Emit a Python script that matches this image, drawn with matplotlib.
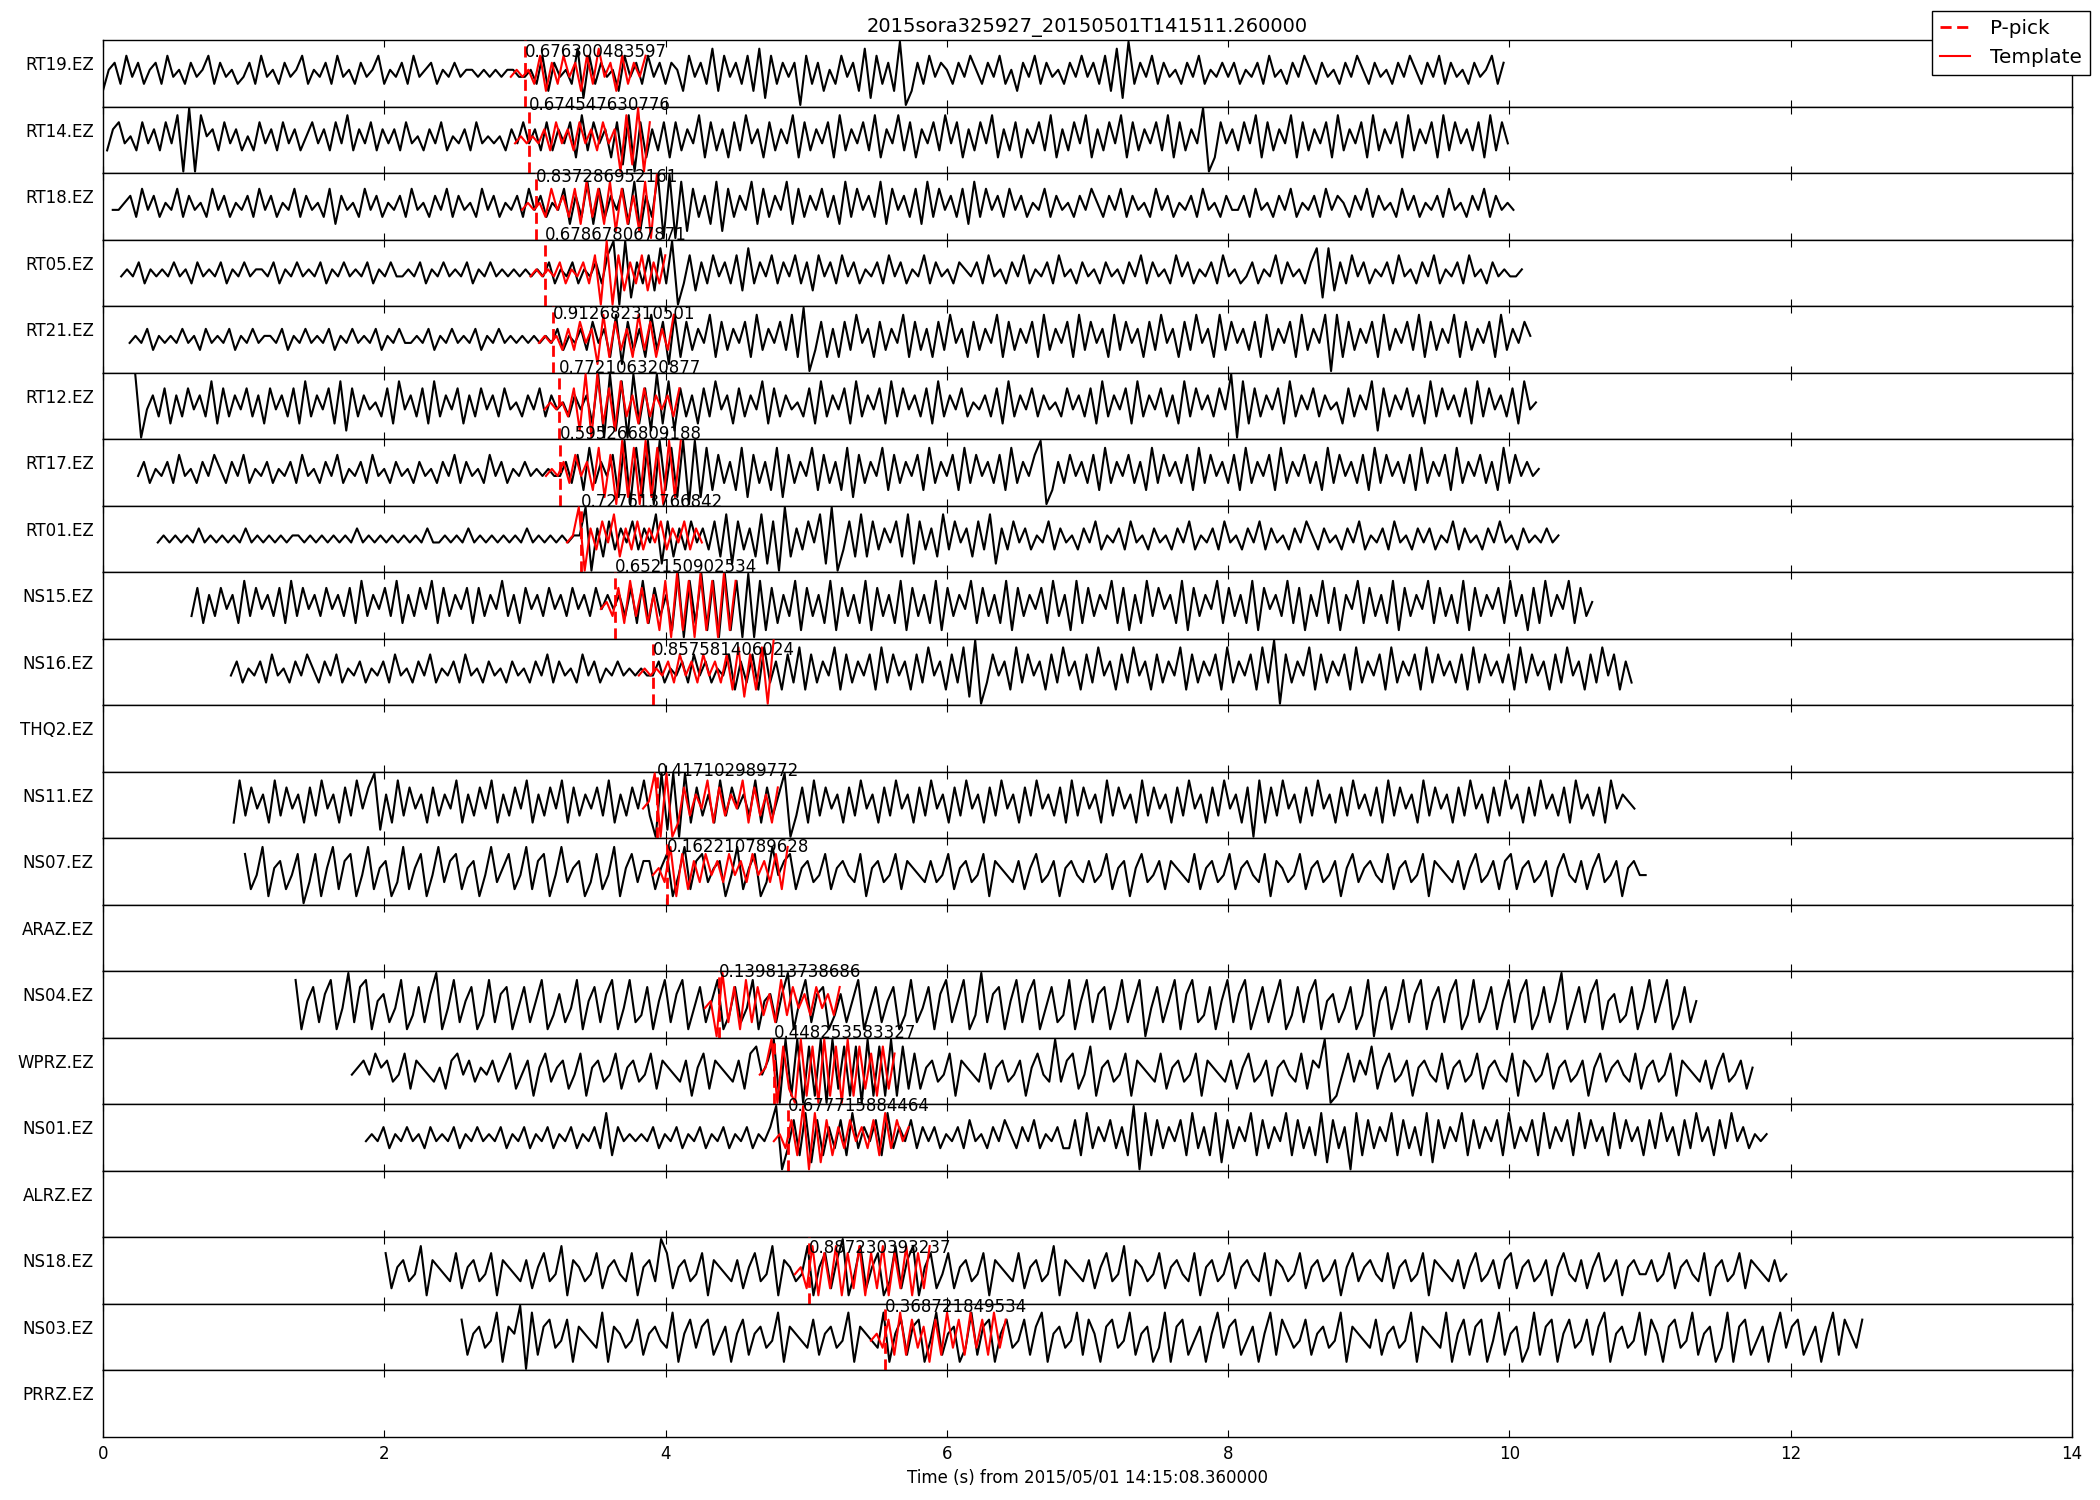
import matplotlib
matplotlib.use("Agg")
import matplotlib.pyplot as plt
import matplotlib.transforms as mtransforms
from matplotlib.lines import Line2D
import numpy as np

plt.rcParams.update({
    'font.family': 'DejaVu Sans',
    'font.size': 12,
    'axes.linewidth': 1.0,
    'xtick.direction': 'in',
    'xtick.top': True,
    'xtick.major.size': 5,
    'xtick.major.pad': 6,
    'lines.linewidth': 1.5,
})

TITLE = '2015sora325927_20150501T141511.260000'
XLABEL = 'Time (s) from 2015/05/01 14:15:08.360000'

STATIONS = ['RT19.EZ', 'RT14.EZ', 'RT18.EZ', 'RT05.EZ', 'RT21.EZ', 'RT12.EZ',
            'RT17.EZ', 'RT01.EZ', 'NS15.EZ', 'NS16.EZ', 'THQ2.EZ', 'NS11.EZ',
            'NS07.EZ', 'ARAZ.EZ', 'NS04.EZ', 'WPRZ.EZ', 'NS01.EZ', 'ALRZ.EZ',
            'NS18.EZ', 'NS03.EZ', 'PRRZ.EZ']

# trace start time (s), None = no data
T_START = [0.00, 0.03, 0.07, 0.13, 0.19, 0.23, 0.25, 0.39, 0.63, 0.91, None,
           0.93, 1.01, None, 1.37, 1.77, 1.87, None, 2.01, 2.55, None]
P_PICK = [3.00, 3.03, 3.08, 3.14, 3.20, 3.24, 3.25, 3.40, 3.64, 3.91, None,
          3.94, 4.01, None, 4.38, 4.77, 4.87, None, 5.02, 5.56, None]
CC_VALUE = [0.676300483597, 0.674547630776, 0.837286952161, 0.678678067871,
            0.912682310501, 0.772106320877, 0.595266809188, 0.727613766842,
            0.652150902534, 0.857581406024, None, 0.417102989772,
            0.162210789628, None, 0.139813738686, 0.448253583327,
            0.677715884464, None, 0.887230393237, 0.368721849534, None]
# baseline height of the CC text (fraction of panel height)
CC_TEXT_Y = [0.74, 0.95, 0.87, 0.99, 0.80, 1.0, 1.0, 0.98, 1.0, 0.75, None,
             0.93, 0.80, None, 0.91, 1.0, 0.90, None, 0.76, 0.88, None]

TRACE_LEN = 10.0      # s of data per trace
TEMPLATE_LEAD = 0.1   # template starts this long before the pick
TEMPLATE_LEN = 1.0

# waveform samples, one string per second (24 samples/s);
# digit 0..9 = level from bottom to top of the panel
TRACES = [
    # RT19
    ["256374635637453645736453", "463745364573546374536457", "354637456354645545454554",
     "453726453817364527463746", "365274638274637281736460", "736253746281736290263746",
     "536475364735264736453647", "463728193647364536473546", "463546374536475364536475",
     "364536475364736453645736"],
    # RT14
    ["367453746374809085637463", "537463746357463748364736", "463745364735463745453647",
     "463736472837462718072637", "273648273627384627364827", "364728364738264837264738",
     "472637482637264738263748", "263748273647382736490274", "637482736482736472836472",
     "836472836472837463728374"],
    # RT18
    ["445637463547364537463546", "374635473645372645374635", "463745364736453746354637",
     "463547263827364728163909", "081736281736482736482736", "473628374638274637283746",
     "372837463746354736453647", "536473645374635463745364", "463745364735463746536473",
     "645374635463745364736454"],
    # RT05
    ["454635454645364546354645", "546354645463546454635464", "454635464546354645454545",
     "463546354637909163728390", "372637463728364736473627", "463746354637463547364536",
     "546374536473546374536453", "645364736453746354637453", "463547364536818263746354",
     "637453647354637453645445"],
    # RT21
    ["454635454645364546354645", "546354645463546454635464", "454635464546354645454545",
     "463546374628173628371827", "364827364728364738290372", "627384627364827362738462",
     "736482736472836472837462", "837462738462738462837463", "728364728364808273647283",
     "647382736482736472836475"],
    # RT12
    ["904637263746382736473627", "463728364728173645372846", "372836472637463745364736",
     "453646290918092719281736", "273846273648273645372836", "472836472837463728364735",
     "463728364736453746372836", "472836473628374637490827", "364728364736452736481736",
     "473628374637283746372845"],
    # RT17
    ["463546374536475364735463", "546374536473546374536453", "645364736453746354645454",
     "463728364719081909281909", "182736281736281736482736", "281736482736472836472837",
     "463728364790263746372836", "473628374637283746372836", "472836473628374637283746",
     "372836472836473628374645"],
    # RT01
    ["454545464545454645454545", "545454545464545454545464", "454546454545454645454545",
     "590627364736481726374637", "281736281709263748190372", "827364728173628374627381",
     "637463547364536473546374", "536453647354637453647364", "536475364536473546374536",
     "463547364536474536454645"],
    # NS15
    ["372637462837463728374637", "463728364738263748273647", "273648362746374637463746",
     "463728273619082918091809", "081726381736281736281736", "281736281736482736281736",
     "472836182736482716283746", "281736482736281746382716", "382716482736281736482736",
     "281736472836172836482735"],
    # NS16
    ["463546374536475364735463", "546374536473546374536453", "645364736453746354645454",
     "463546374635472637283627", "382736482736472837462738", "462738190374628374627384",
     "627384627384627364827364", "728364728390736482736472", "836472836472837463728374",
     "637283746273846273847263"],
    None,  # THQ2
    # NS11
    ["283746283746273846273847", "916283746273648263748263", "748263748273647382637483",
     "091909273628374638273690", "372837462738462738462738", "462738462738462738463728",
     "374628374628374627384627", "384627082738462738462738", "463728374628374627384627",
     "384627384637284637284654"],
    # NS07
    ["724815624703715826714825", "613825714836725614835724", "826714835613724815736625",
     "714826735614825713846725", "634725643715634726543634", "725634716543625734615643",
     "634725615734626543725634", "725643716534725634615735", "643725634716543625734626",
     "725634615743625734615644"],
    None,  # ARAZ
    # NS04
    ["815726814927815624813726", "914825713826714725813624", "815726814823715826814725",
     "813724815626915826713625", "814725713824716825813926", "715826814723815826714825",
     "804725816823715826814725", "813726815624713805714826", "815726813824715826813725",
     "914726815623714825813725"],
    # WPRZ
    ["456475634726543526746354", "635724615735624715634725", "634726543615726543627846",
     "909190819092818091819182", "725634716543725634615743", "936724815634716543725634",
     "716543625734615643726590", "147364825734615643725634", "725643716534725634615735",
     "643725634716543625734625"],
    # NS01
    ["454635464536454635464546", "354635463546354638264545", "463546354635463546354690",
     "372817263728364728364736", "463546374536475364735463", "372836473629082736472836",
     "281736482736482736281736", "082736482736281736482736", "472836472836472837462837",
     "462738462738462738463545"],
    None,  # ALRZ
    # NS18
    ["725634816543725634716543", "625734816534725643715639", "725634716543625734816534",
     "815726914825713826815724", "725634716543725634816543", "625734816534725643715634",
     "725643716534725634615735", "643725634716543625734626", "725634615743625734615644",
     "634725643715634726543634"],
    # NS03
    ["725634816590826734716543", "816534725643815736724615", "725634816543725634816543",
     "815726714825613826715734", "726815634827516734825613", "816724615836724615827534",
     "725634816543725634816543", "815726714825613826715734", "726815634827516734825613",
     "816724615836724615827537"],
    None,  # PRRZ
]

TEMPLATES = [
    "454537263746273846273647", "454546374637463746081907", "454537463728372817261809",
    "454546354637090726372637", "454536374618273628372638", "454537190927183627364637",
    "454637462817091809180919", "459063748263736473647364", "453728372618091809180918",
    "454546374637463728172809", None, "459090273648273648273627",
    "453817263746374637463728", None, "450927182736283746374637",
    "459082091809180918271827", "453729081726374637283746", None,
    "452817281728172817281728", "453728273617283728372837", None,
]


def decode(digits, t0, length):
    s = ''.join(digits)
    n = len(s)
    y = (np.array([int(c) for c in s]) - 4.5) / 4.5
    t = t0 + np.arange(n) * length / n
    return t, y


fig, axes = plt.subplots(len(STATIONS), 1, sharex=True, figsize=(21, 15), dpi=100)
fig.subplots_adjust(left=0.049, right=0.9867, top=0.9733, bottom=0.042, hspace=0)

for i, ax in enumerate(axes):
    ax.set_yticks([])
    ax.set_ylim(-1.05, 1.05)
    ax.set_xlim(0, 14)
    ax.tick_params(axis='x', top=True, bottom=True, direction='in')
    ax.text(-0.0046, 0.55, STATIONS[i], transform=ax.transAxes,
            ha='right', va='baseline', fontsize=12)
    if TRACES[i] is None:
        continue
    t, y = decode(TRACES[i], T_START[i], TRACE_LEN)
    ax.plot(t, y, color='black', lw=1.5, zorder=2)
    tt, ty = decode(TEMPLATES[i], P_PICK[i] - TEMPLATE_LEAD, TEMPLATE_LEN)
    ax.plot(tt, ty, color='red', lw=1.5, zorder=3)
    ax.axvline(P_PICK[i], color='red', ls='--', lw=2.0, dashes=(4, 2), zorder=4)
    trans = mtransforms.blended_transform_factory(ax.transData, ax.transAxes)
    ax.text(P_PICK[i], CC_TEXT_Y[i], repr(CC_VALUE[i]), transform=trans,
            ha='left', va='baseline', fontsize=12, zorder=10, clip_on=False)

axes[-1].set_xticks(np.arange(0, 15, 2))
axes[-1].set_xlabel(XLABEL, fontsize=12)
axes[0].set_title(TITLE, fontsize=14, pad=6)

handles = [Line2D([], [], color='red', ls='--', lw=2.0, dashes=(4, 2)),
           Line2D([], [], color='red', lw=1.5)]
leg = fig.legend(handles, ['P-pick', 'Template'], loc='upper right',
                 bbox_to_anchor=(0.9952, 0.9929), fontsize=14.4,
                 borderaxespad=0, fancybox=False, framealpha=1,
                 edgecolor='black', handlelength=1.5, handletextpad=1.0)
leg.get_frame().set_linewidth(1.0)

fig.savefig('out.png', dpi=100)
